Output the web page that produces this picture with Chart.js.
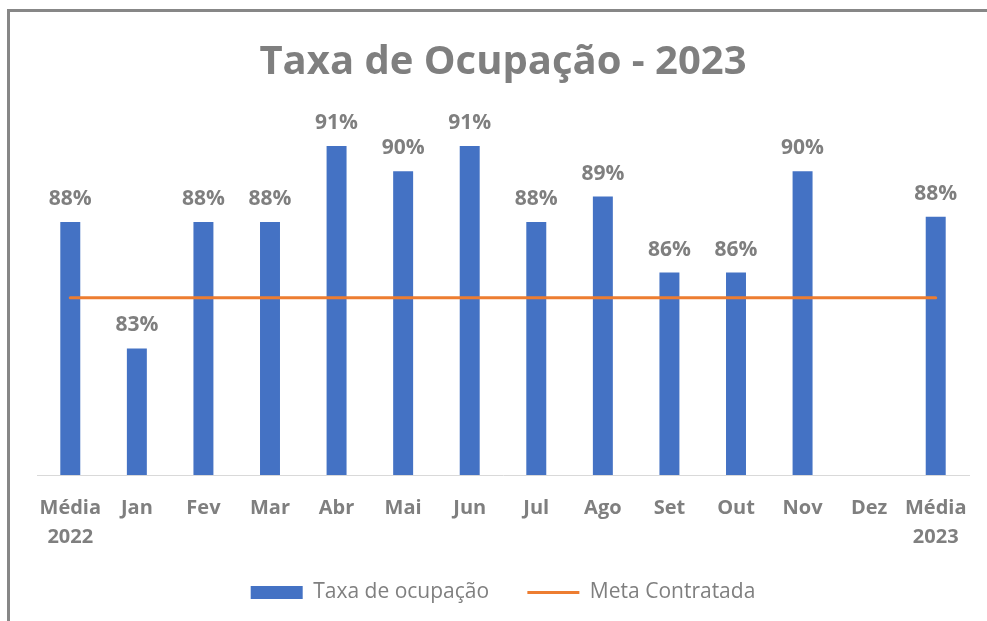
<!DOCTYPE html>
<html>
<head>
<meta charset="utf-8">
<script src="https://cdn.jsdelivr.net/npm/chart.js@4.4.0/dist/chart.umd.min.js"></script>
<style>
  html, body { margin: 0; padding: 0; background: #fff; }
  #wrap { position: relative; width: 987px; height: 621px; overflow: hidden; }
  #grafico { position: absolute; left: 0; top: 0; }
  #moldura {
    position: absolute; left: 7px; top: 9px; right: -20px; bottom: -20px;
    border-top: 3px solid #878787; border-left: 3px solid #878787;
    pointer-events: none;
  }
</style>
</head>
<body>
<div id="wrap">
  <canvas id="grafico" width="987" height="621"></canvas>
  <div id="moldura"></div>
</div>
<script>
// dados do grafico
const categorias = [['Média', '2022'], 'Jan', 'Fev', 'Mar', 'Abr', 'Mai', 'Jun', 'Jul', 'Ago', 'Set', 'Out', 'Nov', 'Dez', ['Média', '2023']];
const taxaOcupacao = [88, 83, 88, 88, 91, 90, 91, 88, 89, 86, 86, 90, null, 88.2];
const metaContratada = [85, 85, 85, 85, 85, 85, 85, 85, 85, 85, 85, 85, 85, 85];

const cinza = '#7f7f7f';
const azul = '#4472C4';
const laranja = '#ED7D31';
const fonte = "'Open Sans', sans-serif";

//rotulos em cima das barras
const rotulosBarras = {
  id: 'rotulosBarras',
  afterDatasetsDraw(chart) {
    const ctx = chart.ctx;
    const meta = chart.getDatasetMeta(0);
    ctx.save();
    ctx.font = 'bold 21px ' + fonte;
    ctx.fillStyle = cinza;
    ctx.textAlign = 'center';
    ctx.textBaseline = 'alphabetic';
    meta.data.forEach((barra, i) => {
      const v = taxaOcupacao[i];
      if (v == null) return;
      ctx.fillText(Math.round(v) + '%', barra.x, barra.y - 17);
    });
    ctx.restore();
  }
};

const ctx = document.getElementById('grafico').getContext('2d');
new Chart(ctx, {
  type: 'bar',
  data: {
    labels: categorias,
    datasets: [
      {
        label: 'Taxa de ocupação',
        data: taxaOcupacao,
        backgroundColor: azul,
        barPercentage: 0.3,
        categoryPercentage: 1,
        order: 1
      },
      {
        type: 'line',
        label: 'Meta Contratada',
        data: metaContratada,
        borderColor: laranja,
        backgroundColor: laranja,
        borderWidth: 3,
        borderCapStyle: 'round',
        pointRadius: 0,
        tension: 0,
        order: 0
      }
    ]
  },
  options: {
    responsive: false,
    animation: false,
    layout: {
      padding: { left: 37, right: 18, top: 9, bottom: 8 }
    },
    plugins: {
      title: {
        display: true,
        text: 'Taxa de Ocupação - 2023',
        color: cinza,
        font: { family: fonte, size: 40, weight: 'bold', lineHeight: 1.2 },
        padding: { top: 30, bottom: 21 }
      },
      legend: {
        position: 'bottom',
        labels: {
          usePointStyle: true,
          pointStyleWidth: 52,
          boxHeight: 13,
          padding: 11,
          color: cinza,
          font: { family: fonte, size: 21 },
          generateLabels() {
            return [
              { text: 'Taxa de ocupação     ', fillStyle: azul, strokeStyle: azul, lineWidth: 0, pointStyle: 'rect', fontColor: cinza, datasetIndex: 0 },
              { text: 'Meta Contratada', fillStyle: laranja, strokeStyle: laranja, lineWidth: 3, pointStyle: 'line', fontColor: cinza, datasetIndex: 1 }
            ];
          }
        }
      },
      tooltip: { enabled: false }
    },
    scales: {
      x: {
        grid: { display: false, drawTicks: false },
        border: { display: true, color: '#d9d9d9', width: 1 },
        ticks: {
          color: cinza,
          padding: 19,
          maxRotation: 0,
          autoSkip: false,
          font: { family: fonte, size: 20, weight: 'bold', lineHeight: 1.45 }
        }
      },
      y: {
        display: false,
        min: 78,
        max: 92.5
      }
    }
  },
  plugins: [rotulosBarras]
});
</script>
</body>
</html>
